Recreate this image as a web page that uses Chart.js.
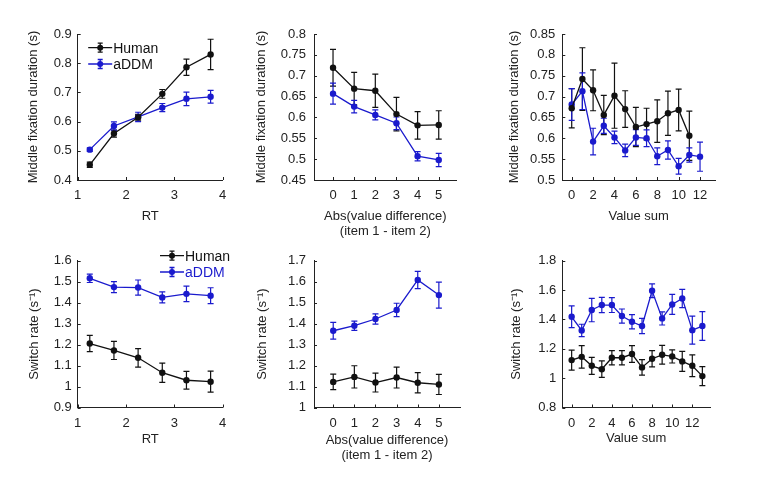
<!DOCTYPE html>
<html>
<head>
<meta charset="utf-8">
<script src="https://cdn.jsdelivr.net/npm/chart.js@4.4.0/dist/chart.umd.min.js"></script>
<style>
  body { margin: 0; background: #fff; width: 759px; height: 484px; position: relative; overflow: hidden; }
  canvas { position: absolute; }
</style>
</head>
<body>
<canvas id="p1"></canvas>
<canvas id="p2"></canvas>
<canvas id="p3"></canvas>
<canvas id="p4"></canvas>
<canvas id="p5"></canvas>
<canvas id="p6"></canvas>
<script>
// x bins
var rtBins = [1.25, 1.75, 2.25, 2.75, 3.25, 3.75];
var diffBins = [0, 1, 2, 3, 4, 5];
var sumBinsHumanTop = [0, 1, 2, 3, 4, 5, 6, 7, 8, 9, 10, 11];
var sumBinsModelTop = [0, 1, 2, 3, 4, 5, 6, 7, 8, 9, 10, 11, 12];
var sumBinsBottom = [0, 1, 2, 3, 4, 5, 6, 7, 8, 9, 10, 11, 12, 13];

// tick labels
var rtTicks = [1, 2, 3, 4];
var diffTicks = [0, 1, 2, 3, 4, 5];
var sumTicks = [0, 2, 4, 6, 8, 10, 12];
var midRtYTicks = [0.4, 0.5, 0.6, 0.7, 0.8, 0.9];
var midDiffYTicks = [0.45, 0.5, 0.55, 0.6, 0.65, 0.7, 0.75, 0.8];
var midSumYTicks = [0.5, 0.55, 0.6, 0.65, 0.7, 0.75, 0.8, 0.85];
var swRtYTicks = [0.9, 1, 1.1, 1.2, 1.3, 1.4, 1.5, 1.6];
var swDiffYTicks = [1, 1.1, 1.2, 1.3, 1.4, 1.5, 1.6, 1.7];
var swSumYTicks = [0.8, 1, 1.2, 1.4, 1.6, 1.8];

// middle fixation duration vs RT
var midRtHuman = [0.452, 0.559, 0.615, 0.695, 0.786, 0.830];
var midRtHumanErr = [0.009, 0.012, 0.010, 0.015, 0.028, 0.052];
var midRtModel = [0.504, 0.585, 0.616, 0.648, 0.678, 0.685];
var midRtModelErr = [0.006, 0.014, 0.016, 0.014, 0.023, 0.022];

// middle fixation duration vs abs value difference
var midDiffHuman = [0.719, 0.669, 0.664, 0.608, 0.581, 0.582];
var midDiffHumanErr = [0.044, 0.039, 0.040, 0.040, 0.033, 0.034];
var midDiffModel = [0.657, 0.626, 0.606, 0.586, 0.507, 0.498];
var midDiffModelErr = [0.025, 0.015, 0.012, 0.015, 0.011, 0.016];

// middle fixation duration vs value sum
var midSumHuman = [0.672, 0.742, 0.715, 0.656, 0.702, 0.670, 0.627, 0.634, 0.641, 0.660, 0.668, 0.606];
var midSumHumanErr = [0.047, 0.075, 0.049, 0.047, 0.078, 0.044, 0.047, 0.038, 0.051, 0.053, 0.050, 0.059];
var midSumModel = [0.681, 0.713, 0.592, 0.630, 0.602, 0.571, 0.602, 0.600, 0.557, 0.572, 0.533, 0.560, 0.556];
var midSumModelErr = [0.038, 0.044, 0.032, 0.018, 0.015, 0.015, 0.019, 0.020, 0.020, 0.022, 0.019, 0.017, 0.035];

// switch rate vs RT
var swRtHuman = [1.205, 1.172, 1.137, 1.066, 1.030, 1.023];
var swRtHumanErr = [0.039, 0.043, 0.044, 0.046, 0.042, 0.050];
var swRtModel = [1.516, 1.474, 1.472, 1.425, 1.442, 1.433];
var swRtModelErr = [0.020, 0.026, 0.036, 0.026, 0.037, 0.038];

// switch rate vs abs value difference
var swDiffHuman = [1.122, 1.146, 1.119, 1.143, 1.118, 1.110];
var swDiffHumanErr = [0.037, 0.053, 0.045, 0.050, 0.048, 0.048];
var swDiffModel = [1.366, 1.390, 1.422, 1.465, 1.608, 1.536];
var swDiffModelErr = [0.040, 0.022, 0.024, 0.032, 0.041, 0.062];

// switch rate vs value sum
var swSumHuman = [1.123, 1.145, 1.084, 1.061, 1.139, 1.139, 1.164, 1.073, 1.132, 1.159, 1.148, 1.114, 1.084, 1.014];
var swSumHumanErr = [0.068, 0.077, 0.058, 0.056, 0.049, 0.048, 0.057, 0.053, 0.055, 0.064, 0.045, 0.068, 0.074, 0.065];
var swSumModel = [1.418, 1.325, 1.464, 1.498, 1.498, 1.423, 1.384, 1.355, 1.595, 1.407, 1.502, 1.543, 1.327, 1.355];
var swSumModelErr = [0.074, 0.042, 0.080, 0.052, 0.051, 0.048, 0.048, 0.052, 0.047, 0.045, 0.068, 0.062, 0.095, 0.098];

var BLACK = '#111111';
var BLUE = '#1a1acd';
var FONT = '"Liberation Sans", Arial, Helvetica, sans-serif';

function pts(xs, ys) {
  return xs.map(function(x, i) { return {x: x, y: ys[i]}; });
}

function series(label, xs, ys, errs, color) {
  return {
    label: label,
    data: pts(xs, ys),
    errors: errs,
    borderColor: color,
    backgroundColor: color,
    borderWidth: 1.3,
    pointRadius: 3.2,
    pointBorderWidth: 0,
    pointBackgroundColor: color,
    tension: 0,
    clip: false
  };
}

// vertical error bars with caps
var errorBars = {
  id: 'errorBars',
  beforeDatasetsDraw: function(chart) {
    var ctx = chart.ctx, ys = chart.scales.y;
    chart.data.datasets.forEach(function(ds, i) {
      var meta = chart.getDatasetMeta(i);
      ctx.save();
      ctx.strokeStyle = ds.borderColor;
      ctx.lineWidth = 1.2;
      ctx.beginPath();
      meta.data.forEach(function(pt, j) {
        var v = ds.data[j].y, e = ds.errors[j];
        var t = ys.getPixelForValue(v + e), b = ys.getPixelForValue(v - e);
        ctx.moveTo(pt.x, t); ctx.lineTo(pt.x, b);
        ctx.moveTo(pt.x - 3, t); ctx.lineTo(pt.x + 3, t);
        ctx.moveTo(pt.x - 3, b); ctx.lineTo(pt.x + 3, b);
      });
      ctx.stroke();
      ctx.restore();
    });
  }
};

// small tick marks pointing into the plot
var innerTicks = {
  id: 'innerTicks',
  afterDraw: function(chart) {
    var a = chart.chartArea, ctx = chart.ctx;
    var xs = chart.scales.x, ys = chart.scales.y;
    ctx.save();
    ctx.strokeStyle = '#222';
    ctx.lineWidth = 1;
    ctx.beginPath();
    xs.ticks.forEach(function(t) {
      var px = Math.round(xs.getPixelForValue(t.value)) + 0.5;
      ctx.moveTo(px, a.bottom); ctx.lineTo(px, a.bottom - 3);
    });
    ys.ticks.forEach(function(t) {
      var py = Math.round(ys.getPixelForValue(t.value)) + 0.5;
      ctx.moveTo(a.left, py); ctx.lineTo(a.left + 3, py);
    });
    ctx.stroke();
    ctx.restore();
  }
};

// legend drawn like the matlab one: line + error bar + dot
var miniKey = {
  id: 'miniKey',
  afterDraw: function(chart, args, opts) {
    if (!opts || !opts.items) return;
    var a = chart.chartArea, ctx = chart.ctx;
    ctx.save();
    opts.items.forEach(function(it, i) {
      var x0 = a.left + opts.dx, y = a.top + opts.dy + i * opts.gap;
      var xm = x0 + 12;
      ctx.strokeStyle = it.color;
      ctx.lineWidth = 1.3;
      ctx.beginPath();
      ctx.moveTo(x0, y); ctx.lineTo(x0 + 24, y);
      ctx.moveTo(xm, y - 4.5); ctx.lineTo(xm, y + 4.5);
      ctx.moveTo(xm - 2.5, y - 4.5); ctx.lineTo(xm + 2.5, y - 4.5);
      ctx.moveTo(xm - 2.5, y + 4.5); ctx.lineTo(xm + 2.5, y + 4.5);
      ctx.stroke();
      ctx.fillStyle = it.color;
      ctx.beginPath();
      ctx.arc(xm, y, 3, 0, Math.PI * 2);
      ctx.fill();
      ctx.fillStyle = it.textColor;
      ctx.font = '14px ' + FONT;
      ctx.textBaseline = 'middle';
      ctx.textAlign = 'left';
      ctx.fillText(it.text, x0 + 25, y + 1);
    });
    ctx.restore();
  }
};

function fmt(v) { return String(Math.round(v * 100) / 100); }

function makePanel(id, box, area, xr, yr, datasets, key) {
  var cv = document.getElementById(id);
  cv.width = box.w; cv.height = box.h;
  cv.style.left = box.x + 'px'; cv.style.top = box.y + 'px';
  cv.style.width = box.w + 'px'; cv.style.height = box.h + 'px';
  var xLines = Array.isArray(xr.title) ? xr.title.length : 1;
  new Chart(cv, {
    type: 'line',
    data: {datasets: datasets},
    options: {
      responsive: false,
      animation: false,
      devicePixelRatio: 1,
      layout: {padding: {left: 0, top: area.top - box.y, right: box.x + box.w - area.right, bottom: 0}},
      plugins: {legend: {display: false}, tooltip: {enabled: false}, miniKey: key || {}},
      scales: {
        x: {
          type: 'linear', min: xr.min, max: xr.max,
          afterFit: function(s) { s.height = box.y + box.h - area.bottom; },
          afterBuildTicks: function(s) { s.ticks = xr.ticks.map(function(v) { return {value: v}; }); },
          grid: {display: false, drawTicks: false},
          border: {display: true, color: '#222', width: 1},
          ticks: {color: '#222', font: {family: FONT, size: 13}, padding: 8, maxRotation: 0, callback: fmt},
          title: {display: true, text: xr.title, color: '#222', font: {family: FONT, size: 13, lineHeight: xLines > 1 ? 1.18 : 1.2}, padding: {top: 0, bottom: 2}}
        },
        y: {
          type: 'linear', min: yr.min, max: yr.max,
          afterFit: function(s) { s.width = area.left - box.x; },
          afterBuildTicks: function(s) { s.ticks = yr.ticks.map(function(v) { return {value: v}; }); },
          grid: {display: false, drawTicks: false},
          border: {display: true, color: '#222', width: 1},
          ticks: {color: '#222', font: {family: FONT, size: 13}, padding: yr.pad, callback: fmt},
          title: {display: true, text: yr.title, color: '#222', font: {family: FONT, size: 13, lineHeight: 1.2}, padding: {top: 2, bottom: 0}}
        }
      }
    },
    plugins: [errorBars, innerTicks, miniKey]
  });
}

var midTitle = 'Middle fixation duration (s)';
var swTitle = 'Switch rate (s\u207B\u00B9)';
var diffTitle = ['Abs(value difference)', '(item 1 - item 2)'];

makePanel('p1', {x: 24, y: 0, w: 211, h: 226}, {left: 77.7, top: 34, right: 222.7, bottom: 180},
  {min: 1, max: 4, ticks: rtTicks, title: 'RT'},
  {min: 0.4, max: 0.9, ticks: midRtYTicks, title: midTitle, pad: 6},
  [series('Human', rtBins, midRtHuman, midRtHumanErr, BLACK), series('aDDM', rtBins, midRtModel, midRtModelErr, BLUE)],
  {dx: 10.5, dy: 13.7, gap: 16.3, items: [{text: 'Human', color: BLACK, textColor: '#111'}, {text: 'aDDM', color: BLUE, textColor: '#111'}]});

makePanel('p2', {x: 252, y: 0, w: 218, h: 241}, {left: 314, top: 34, right: 456.7, bottom: 180},
  {min: -0.9, max: 5.85, ticks: diffTicks, title: diffTitle},
  {min: 0.45, max: 0.8, ticks: midDiffYTicks, title: midTitle, pad: 8},
  [series('Human', diffBins, midDiffHuman, midDiffHumanErr, BLACK), series('aDDM', diffBins, midDiffModel, midDiffModelErr, BLUE)]);

makePanel('p3', {x: 505, y: 0, w: 240, h: 226}, {left: 562.3, top: 34, right: 715, bottom: 180},
  {min: -0.88, max: 13.4, ticks: sumTicks, title: 'Value sum'},
  {min: 0.5, max: 0.85, ticks: midSumYTicks, title: midTitle, pad: 7},
  [series('Human', sumBinsHumanTop, midSumHuman, midSumHumanErr, BLACK), series('aDDM', sumBinsModelTop, midSumModel, midSumModelErr, BLUE)]);

makePanel('p4', {x: 25, y: 240, w: 225, h: 209}, {left: 77.7, top: 260.7, right: 222.7, bottom: 407.5},
  {min: 1, max: 4, ticks: rtTicks, title: 'RT'},
  {min: 0.9, max: 1.6, ticks: swRtYTicks, title: swTitle, pad: 6},
  [series('Human', rtBins, swRtHuman, swRtHumanErr, BLACK), series('aDDM', rtBins, swRtModel, swRtModelErr, BLUE)],
  {dx: 82.3, dy: -5, gap: 16.3, items: [{text: 'Human', color: BLACK, textColor: '#111'}, {text: 'aDDM', color: BLUE, textColor: BLUE}]});

makePanel('p5', {x: 253, y: 240, w: 219, h: 225}, {left: 314, top: 260.7, right: 460, bottom: 407.5},
  {min: -0.91, max: 6, ticks: diffTicks, title: diffTitle},
  {min: 1, max: 1.7, ticks: swDiffYTicks, title: swTitle, pad: 8},
  [series('Human', diffBins, swDiffHuman, swDiffHumanErr, BLACK), series('aDDM', diffBins, swDiffModel, swDiffModelErr, BLUE)]);

makePanel('p6', {x: 507, y: 240, w: 235, h: 208}, {left: 562.3, top: 260.7, right: 710, bottom: 407.5},
  {min: -0.93, max: 13.76, ticks: sumTicks, title: 'Value sum'},
  {min: 0.8, max: 1.8, ticks: swSumYTicks, title: swTitle, pad: 6},
  [series('Human', sumBinsBottom, swSumHuman, swSumHumanErr, BLACK), series('aDDM', sumBinsBottom, swSumModel, swSumModelErr, BLUE)]);
</script>
</body>
</html>
